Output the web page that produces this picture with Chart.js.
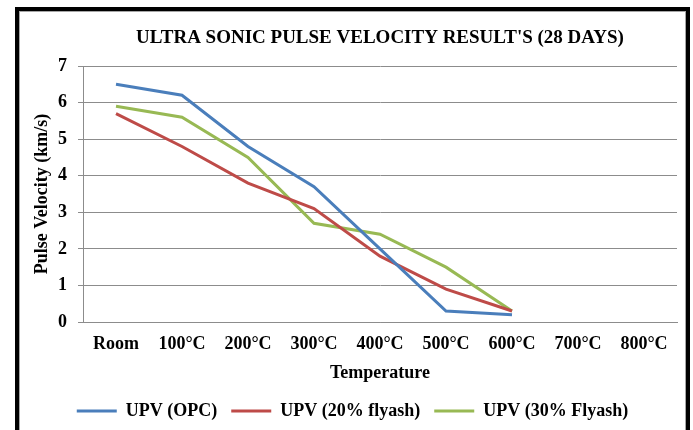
<!DOCTYPE html>
<html>
<head>
<meta charset="utf-8">
<script src="https://cdn.jsdelivr.net/npm/chart.js@4/dist/chart.umd.min.js"></script>
<style>
  html, body { margin: 0; padding: 0; background: #ffffff; }
  #wrap { position: relative; width: 693px; height: 430px; }
</style>
</head>
<body>
<div id="wrap"><canvas id="c" width="693" height="430"></canvas></div>
<script>
const categories = ["Room", "100°C", "200°C", "300°C", "400°C", "500°C", "600°C", "700°C", "800°C"];
const upvOPC     = [6.5, 6.2, 4.8, 3.7, 2.0, 0.3, 0.2, null, null];
const upv20      = [5.7, 4.8, 3.8, 3.1, 1.8, 0.9, 0.3, null, null];
const upv30      = [5.9, 5.6, 4.5, 2.7, 2.4, 1.5, 0.3, null, null];
const seriesNames = ["UPV (OPC)", "UPV (20% flyash)", "UPV (30% Flyash)"];
const yTicks = [0, 1, 2, 3, 4, 5, 6, 7];
const chartTitle = "ULTRA SONIC PULSE VELOCITY RESULT'S (28 DAYS)";
const xTitle = "Temperature";
const yTitle = "Pulse Velocity (km/s)";

const colors = ["#4A7EBB", "#BE4B48", "#98B954"];
const FONT = "'Liberation Serif', 'Times New Roman', serif";
const GRID = "#8c8c8c";

const frame = {
  id: 'frame',
  afterDraw(chart) {
    const ctx = chart.ctx;
    ctx.save();
    ctx.strokeStyle = '#000';
    ctx.lineWidth = 4;
    ctx.strokeRect(17, 9, 671, 440);
    ctx.strokeStyle = '#a6a6a6';
    ctx.lineWidth = 1;
    ctx.strokeRect(19.5, 11.5, 666, 440);
    ctx.restore();
  }
};

const seriesData = [upvOPC, upv20, upv30];

new Chart(document.getElementById('c'), {
  type: 'line',
  data: {
    labels: categories,
    datasets: seriesData.map((d, i) => ({
      label: seriesNames[i],
      data: d,
      borderColor: colors[i],
      backgroundColor: colors[i],
      borderWidth: 3,
      pointRadius: 0,
      pointHoverRadius: 0,
      fill: false,
      tension: 0,
      spanGaps: false
    }))
  },
  options: {
    responsive: false,
    animation: false,
    events: [],
    layout: { padding: { left: 28, right: 16, top: 10, bottom: 0 } },
    plugins: {
      tooltip: { enabled: false },
      title: {
        display: true,
        text: chartTitle,
        fullSize: false,
        color: '#000',
        font: { family: FONT, size: 19, weight: 'bold' },
        padding: { top: 17, bottom: 16.2 }
      },
      legend: {
        position: 'bottom',
        labels: {
          color: '#000',
          font: { family: FONT, size: 18, weight: 'bold' },
          boxWidth: 40,
          boxHeight: 3,
          padding: 14,
          generateLabels(chart) {
            const items = Chart.defaults.plugins.legend.labels.generateLabels(chart);
            items.forEach(it => { it.lineWidth = 0; });
            return items;
          }
        }
      }
    },
    scales: {
      x: {
        type: 'category',
        offset: true,
        grid: { display: false, drawTicks: false },
        border: { display: true, color: GRID, width: 1 },
        ticks: {
          color: '#000',
          font: { family: FONT, size: 18, weight: 'bold' },
          padding: 12,
          maxRotation: 0,
          autoSkip: false
        },
        title: {
          display: true,
          text: xTitle,
          color: '#000',
          font: { family: FONT, size: 18, weight: 'bold' },
          padding: { top: 0, bottom: 4 }
        },
        afterFit(scale) { scale.height = 66; }
      },
      y: {
        min: 0,
        max: 7,
        afterBuildTicks(scale) { scale.ticks = yTicks.map(v => ({ value: v })); },
        grid: { color: GRID, lineWidth: 1, drawTicks: true, tickLength: 5 },
        border: { display: true, color: GRID, width: 1 },
        ticks: {
          color: '#000',
          font: { family: FONT, size: 18, weight: 'bold' },
          padding: 11
        },
        title: {
          display: true,
          text: yTitle,
          color: '#000',
          font: { family: FONT, size: 18, weight: 'bold' },
          padding: { top: 4, bottom: 0 }
        },
        afterFit(scale) { scale.width = 55; }
      }
    }
  },
  plugins: [frame]
});
</script>
</body>
</html>
